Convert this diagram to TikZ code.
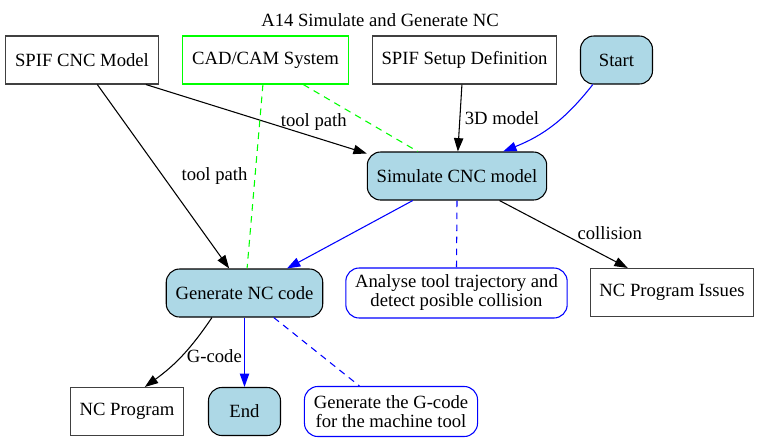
\documentclass[tikz,border=0pt]{standalone}
\usepackage{fontspec}
\setmainfont{Liberation Serif}
\usetikzlibrary{arrows.meta}
\definecolor{lightblue}{HTML}{ADD8E6}
\tikzset{block/.style = {draw = black!75, rectangle, minimum height = 36pt, minimum width = 54pt, inner xsep = 7pt},
         tool/.style = {block, draw = green},
         proc/.style = {draw, rectangle, rounded corners = 10pt, fill = lightblue, minimum height = 36pt, minimum width = 54pt, inner xsep = 7pt},
         note/.style = {draw = blue, rectangle, rounded corners = 10pt, align = center, minimum height = 37.5pt, inner xsep = 7pt},
         link/.style = {dash pattern = on 5pt off 4pt},
}

\begin{document}
\begin{tikzpicture}[x = 0.75pt, y = -0.75pt, line width = 0.8pt,
    font = \fontsize{14}{14.25}\selectfont,
    >={Triangle[length = 10pt, width = 7pt]}]

  \useasboundingbox (0,0) rectangle (760,443);

  \node (title) at (380,20) {A14 Simulate and Generate NC};
  \node[block] (cnc) at (82,60) {SPIF CNC Model};
  \node[tool] (cad) at (265.5,60) {CAD/CAM System};
  \node[block] (setup) at (464.5,60) {SPIF Setup Definition};
  \node[proc] (start) at (616.5,60) {Start};
  \node[proc] (sim) at (457,176) {Simulate CNC model};
  \node[proc] (gen) at (244.5,293) {Generate NC code};
  \node[note] (check) at (456.5,293) {Analyse tool trajectory and\\detect posible collision};
  \node[block] (issues) at (672,292.5) {NC Program Issues};
  \node[block] (prog) at (127,411.5) {NC Program};
  \node[proc] (end) at (244.5,411.5) {End};
  \node[note] (gnote) at (391,411.5) {Generate the G-code\\for the machine tool};

  \draw[->] (cnc.-21) -- node[pos = 0.76, above = 1pt] {tool path} (sim.166);
  \draw[->] (cnc.-58) -- node[midway, right = 10pt] {tool path} (gen.122);
  \draw[green, link] (cad.-96) -- (gen.84);
  \draw[green, link] (cad.-33) -- (sim.148);
  \draw[->] (setup.-96) -- node[midway, right] {3D model} (sim.88);
  \draw[->, blue] (start.-134) to[bend left = 15] (sim.28);
  \draw[->, blue] (sim.209) -- (gen.30);
  \draw[blue, link] (sim.south) -- (check.north);
  \draw[->] (sim.-30) -- node[pos = 0.57, anchor = south west, yshift = -4pt] {collision} (issues.151);
  \draw[->] (gen.217) to[bend left = 10] node[midway, right] {G-code} (prog.54);
  \draw[->, blue] (gen.south) -- (end.north);
  \draw[blue, link] (gen.-40) -- (gnote.141);

\end{tikzpicture}
\end{document}
